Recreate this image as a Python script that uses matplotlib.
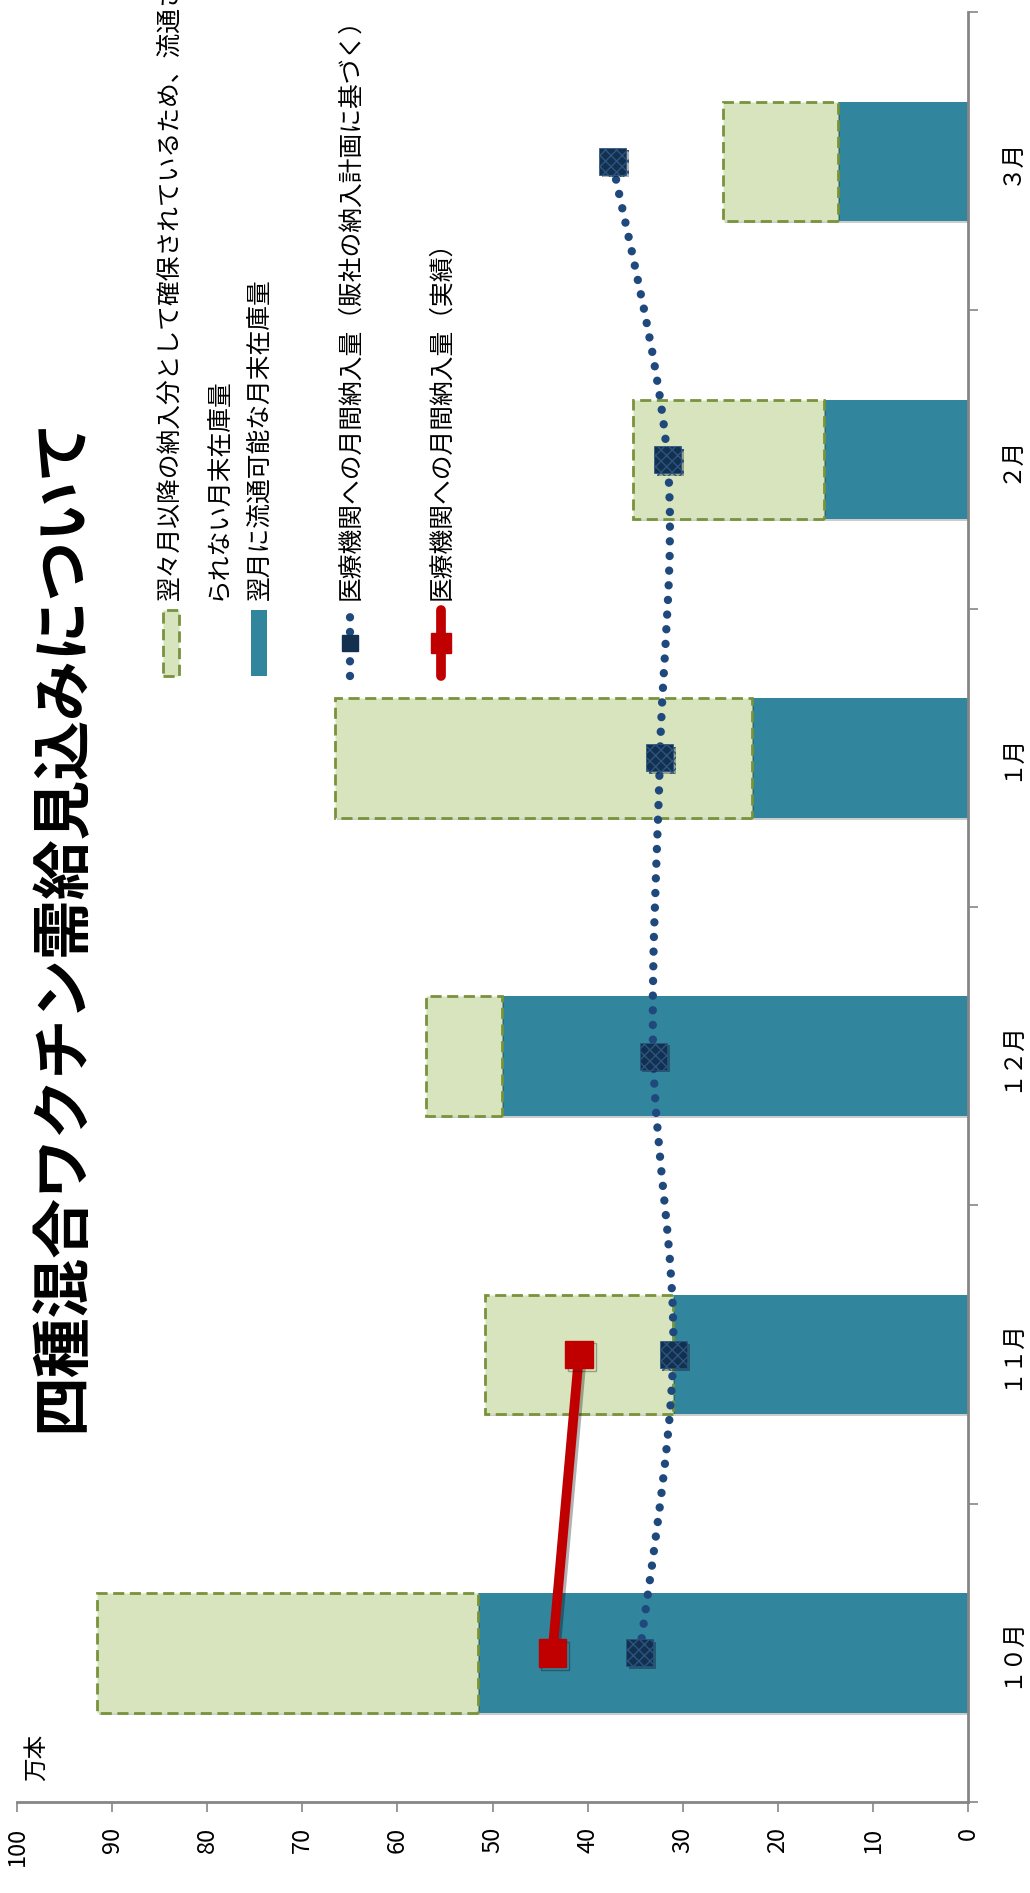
#!/usr/bin/env python3
import matplotlib
matplotlib.use('Agg')
import matplotlib.pyplot as plt
import matplotlib.patheffects as pe
import numpy as np
from matplotlib.patches import Rectangle, PathPatch
from matplotlib.path import Path
from matplotlib.lines import Line2D

plt.rcParams['font.family'] = ['Noto Sans CJK JP', 'DejaVu Sans']

# Data (万本)
months = ['１０月', '１１月', '１２月', '１月', '２月', '３月']
stock_next = [51.5, 31.0, 49.0, 22.7, 15.1, 13.7]        # 翌月に流通可能な月末在庫量
stock_reserved = [40.1, 19.8, 8.0, 43.9, 20.1, 12.1]     # 翌々月以降の納入分として確保
planned = [34.5, 31.0, 33.1, 32.4, 31.6, 37.4]           # 販社の納入計画に基づく
actual = [43.7, 40.9]                                    # 実績 (10月, 11月)

title = '四種混合ワクチン需給見込みについて'
leg_reserved = ['翌々月以降の納入分として確保されているため、流通させ',
                'られない月末在庫量']
leg_next = '翌月に流通可能な月末在庫量'
leg_planned = '医療機関への月間納入量（販社の納入計画に基づく）'
leg_actual = '医療機関への月間納入量（実績）'

TEAL = '#31859C'
GREEN = '#D7E4BD'
OLIVE = '#77933C'
NAVY = '#1F497D'
DARK = '#14304F'
RED = '#C00000'
GREY = '#868686'

W, H = 1030, 1893
fig = plt.figure(figsize=(W / 100, H / 100), dpi=100)


def fx(x):
    return x / W


def fy(y):
    return 1 - y / H


shadow = [pe.SimplePatchShadow(offset=(1.5, -1.5), shadow_rgbFace='k', alpha=0.2),
          pe.Normal()]
mshadow = [pe.SimpleLineShadow(offset=(2, -2), shadow_color='k', alpha=0.3),
           pe.Normal()]

ax = fig.add_axes([fx(17), fy(1802), fx(968) - fx(17), fy(12) - fy(1802)])
y = np.arange(len(months))

bars1 = ax.barh(y, stock_next, height=0.4, color=TEAL, zorder=2)
bars2 = ax.barh(y, stock_reserved, left=stock_next, height=0.4, color=GREEN,
                edgecolor=OLIVE, linestyle=(0, (4, 2)), linewidth=2, zorder=2)
for b in list(bars1) + list(bars2):
    b.set_path_effects(shadow)

# smoothed planned line (Catmull-Rom -> bezier)
pts = np.column_stack([planned, y]).astype(float)
ext = np.vstack([pts[0], pts, pts[-1]])
verts = [pts[0]]
codes = [Path.MOVETO]
for i in range(len(pts) - 1):
    p0, p1, p2, p3 = ext[i], ext[i + 1], ext[i + 2], ext[i + 3]
    verts += [p1 + (p2 - p0) / 6, p2 - (p3 - p1) / 6, p2]
    codes += [Path.CURVE4] * 3
ax.add_patch(PathPatch(Path(verts, codes), fill=False, edgecolor=NAVY,
                       linewidth=6, linestyle=(0, (0.01, 1.75)),
                       capstyle='round', zorder=3))
ax.scatter(planned, y, marker='s', s=380, facecolor=DARK, edgecolor='#2A5580',
           hatch='xxx', linewidth=0.5, zorder=4,
           path_effects=[pe.SimplePatchShadow(offset=(2, -2), shadow_rgbFace='k',
                                              alpha=0.3), pe.Normal()])

ax.plot(actual, y[:len(actual)], color=RED, linewidth=7, marker='s',
        markersize=20, zorder=5, path_effects=mshadow)

ax.set_xlim(100, 0)
ax.set_ylim(-0.5, len(months) - 0.5)
ax.set_xticks(np.arange(0, 101, 10))
ax.tick_params(axis='x', labelrotation=90, length=7, width=1.2, color=GREY,
               pad=11, labelsize=17)

ax.yaxis.tick_right()
ax.set_yticks(y)
ax.set_yticklabels(months)
ax.set_yticks(np.arange(-0.5, len(months), 1), minor=True)
ax.tick_params(axis='y', which='major', length=0, pad=22, labelsize=17)
ax.tick_params(axis='y', which='minor', length=7, width=1.2, color=GREY)
for lab in ax.get_yticklabels():
    lab.set_rotation(90)
    lab.set_va('center')
    lab.set_ha('left')

for s in ['top', 'left']:
    ax.spines[s].set_visible(False)
for s in ['bottom', 'right']:
    ax.spines[s].set_color(GREY)
    ax.spines[s].set_linewidth(2)

# title and unit
fig.text(fx(63), fy(924), title, rotation=90, fontsize=43, fontweight='bold',
         ha='center', va='center')
fig.text(fx(36), fy(1757), '万本', rotation=90, fontsize=17,
         ha='center', va='center')

# legend drawn by hand (rotated)
fs = 17.8
fig.add_artist(Rectangle((fx(163), fy(676)), fx(16), fy(610) - fy(676),
                         transform=fig.transFigure, facecolor=GREEN,
                         edgecolor=OLIVE, linestyle=(0, (4, 2)), linewidth=2))
fig.text(fx(170), fy(600), leg_reserved[0], rotation=90, fontsize=fs,
         ha='center', va='bottom')
fig.text(fx(217), fy(600), leg_reserved[1], rotation=90, fontsize=fs,
         ha='center', va='bottom')

fig.add_artist(Rectangle((fx(251), fy(676)), fx(16), fy(610) - fy(676),
                         transform=fig.transFigure, facecolor=TEAL,
                         edgecolor='none'))
fig.text(fx(260), fy(600), leg_next, rotation=90, fontsize=fs,
         ha='center', va='bottom')

fig.add_artist(Line2D([fx(350), fx(350)], [fy(676), fy(610)],
                      transform=fig.transFigure, color=NAVY, linewidth=6,
                      linestyle=(0, (0.01, 1.75)), dash_capstyle='round'))
fig.add_artist(Line2D([fx(350)], [fy(643)], transform=fig.transFigure,
                      marker='s', markersize=12, color=DARK, linestyle='none'))
fig.text(fx(350), fy(600), leg_planned, rotation=90, fontsize=fs,
         ha='center', va='bottom')

fig.add_artist(Line2D([fx(441), fx(441)], [fy(676), fy(610)],
                      transform=fig.transFigure, color=RED, linewidth=7,
                      solid_capstyle='round'))
fig.add_artist(Line2D([fx(441)], [fy(643)], transform=fig.transFigure,
                      marker='s', markersize=14, color=RED, linestyle='none'))
fig.text(fx(441), fy(600), leg_actual, rotation=90, fontsize=fs,
         ha='center', va='bottom')

fig.savefig('out.png', dpi=100)
